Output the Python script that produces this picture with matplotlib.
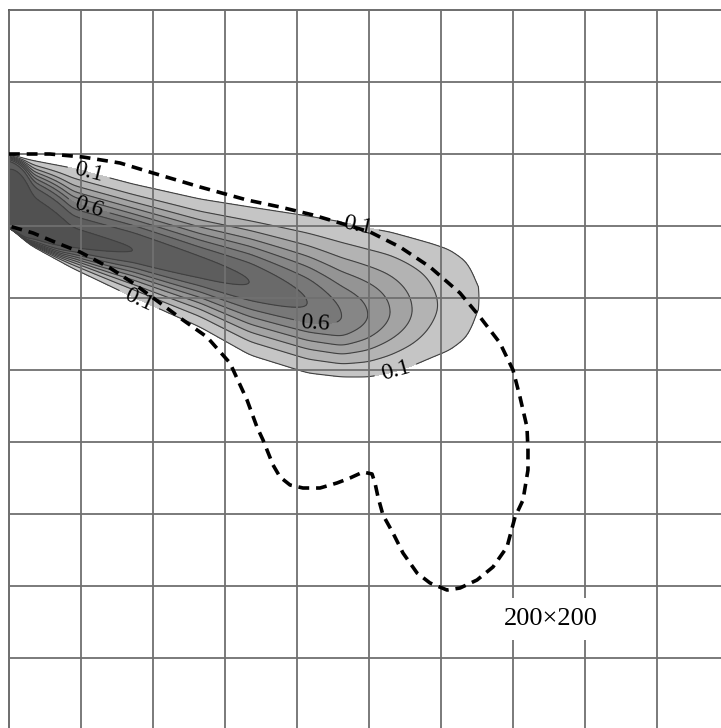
import numpy as np
import matplotlib
matplotlib.use("Agg")
import matplotlib.pyplot as plt

# ---------------- data (grid-cell units, 1 cell = 200 m; y measured upward) ----------------
grid_ticks = list(range(0, 11))

# plume stations along x: core position, 0.1-contour top/bottom, peak value, profile sharpness
st_x    = [0.0, 0.292, 0.875, 1.722, 2.653, 3.347, 4.153, 4.625, 4.986, 5.292, 5.597, 5.889,
           6.125, 6.361, 6.444, 6.514, 6.542, 6.681]
st_top  = [8.0, 7.917, 7.806, 7.583, 7.375, 7.264, 7.139, 7.056, 6.972, 6.917, 6.833, 6.75,
           6.667, 6.5, 6.347, 6.181, 6.014, 6.014]
st_bot  = [6.986, 6.736, 6.417, 6.014, 5.597, 5.208, 4.958, 4.903, 4.903, 4.958, 5.056, 5.181,
           5.278, 5.458, 5.625, 5.806, 6.014, 6.014]
st_core = [7.028, 6.944, 6.778, 6.667, 6.417, 6.222, 5.931, 5.736, 5.764, 5.806, 5.833, 5.889,
           5.931, 5.972, 5.986, 6.0, 6.014, 6.014]
st_peak = [0.9, 0.93, 0.93, 0.9, 0.85, 0.8, 0.7, 0.6, 0.5, 0.4, 0.3, 0.21,
           0.17, 0.13, 0.12, 0.105, 0.1, 0.05]
st_p    = [30, 6, 2.6, 2.2, 2, 2, 2, 2, 2, 2, 2, 2, 2, 2, 2, 2, 2, 2]

levels = [0.1, 0.2, 0.3, 0.4, 0.5, 0.6, 0.7, 0.8, 0.9, 1.0]
line_levels = [0.2, 0.3, 0.4, 0.5, 0.7, 0.8, 0.9]
band_colors = ['#c5c5c5', '#b3b3b3', '#a3a3a3', '#949494', '#868686',
               '#787878', '#6a6a6a', '#5d5d5d', '#515151']

# contour label anchor points
lab01_pts = [(1.069, 7.597), (4.833, 6.958), (1.833, 6.028), (5.389, 4.931)]
lab06_pts = [(1.097, 7.222), (4.25, 5.583)]

# dashed outline
dash_x = [0.0, 0.569, 1.028, 1.542, 2.0, 2.653, 3.306, 3.764, 4.222, 4.597, 5.014, 5.431, 5.847,
          6.264, 6.542, 6.819, 7.0, 7.097, 7.194, 7.208, 7.208, 7.139, 7.028, 6.917, 6.722, 6.5,
          6.264, 6.083, 5.847, 5.667, 5.472, 5.333, 5.194, 5.125, 5.083, 5.042, 4.917, 4.736,
          4.556, 4.319, 4.083, 3.903, 3.764, 3.667, 3.528, 3.444, 3.306, 3.069, 2.75, 2.417,
          2.097, 1.722, 1.403, 0.986, 0.667, 0.333, 0.0]
dash_y = [8.0, 8.0, 7.958, 7.875, 7.736, 7.542, 7.361, 7.264, 7.153, 7.042, 6.917, 6.708, 6.431,
          6.069, 5.736, 5.375, 5.0, 4.625, 4.208, 3.889, 3.611, 3.194, 2.958, 2.542, 2.264, 2.083,
          1.972, 1.944, 2.042, 2.181, 2.458, 2.736, 2.986, 3.236, 3.431, 3.556, 3.583, 3.5,
          3.431, 3.361, 3.361, 3.403, 3.514, 3.681, 4.028, 4.208, 4.583, 5.097, 5.458, 5.694,
          5.931, 6.208, 6.417, 6.639, 6.764, 6.903, 7.0]

note_text = "200\u00d7200"
note_pos = (7.53, 1.54)

# ---------------- field built from the station arrays ----------------
gx = np.linspace(0, 8, 1600)
gy = np.linspace(3, 9, 1200)
dx = gx[1] - gx[0]
sig = 0.06
kern = np.exp(-0.5 * (np.arange(-int(4 * sig / dx), int(4 * sig / dx) + 1) * dx / sig) ** 2)
kern /= kern.sum()
npad = len(kern) // 2


def profile(vals):
    v = np.interp(gx, st_x, vals)
    v = np.convolve(np.pad(v, npad, mode='edge'), kern, mode='valid')
    return v[None, :]


X, Y = np.meshgrid(gx, gy)
top = profile(st_top)
bot = profile(st_bot)
core = profile(st_core)
peak = profile(st_peak)
pp = profile(st_p)
h = np.where(Y >= core, top - core, core - bot)
h = np.maximum(h, 1e-3)
r = np.abs(Y - core) / h
k = np.maximum(np.log(np.maximum(peak, 1e-3) / 0.1), 0.02)
with np.errstate(over='ignore'):
    Z = peak * np.exp(-k * np.power(r, pp))

# ---------------- figure ----------------
fig = plt.figure(figsize=(7.21, 7.28), dpi=100)
ax = fig.add_axes([9 / 721, -2 / 728, 720 / 721, 720 / 728])
ax.set_xlim(0, 10)
ax.set_ylim(0, 10)

ax.contourf(X, Y, Z, levels=levels, colors=band_colors, zorder=1)
ax.contour(X, Y, Z, levels=line_levels, colors='#404040', linewidths=0.8, zorder=2)
cs01 = ax.contour(X, Y, Z, levels=[0.1], colors='#404040', linewidths=0.8, zorder=2)
cs06 = ax.contour(X, Y, Z, levels=[0.6], colors='#404040', linewidths=0.8, zorder=2)

t1 = ax.clabel(cs01, manual=lab01_pts, fmt='%.1f', inline=True,
               inline_spacing=3, colors='black', fontsize=17)
t2 = ax.clabel(cs06, manual=lab06_pts, fmt='%.1f', inline=True,
               inline_spacing=3, colors='black', fontsize=17)
for t in list(t1) + list(t2):
    t.set_fontfamily('Liberation Serif')
    t.set_fontsize(17)
    t.set_zorder(6)

ax.plot(dash_x, dash_y, color='black', lw=2.6, linestyle=(0, (3.0, 1.9)),
        dash_capstyle='butt', zorder=4, solid_joinstyle='round')

ax.set_xticks(grid_ticks)
ax.set_yticks(grid_ticks)
ax.tick_params(length=0, labelbottom=False, labelleft=False)
ax.grid(True, color='#707070', lw=1.3)
ax.set_axisbelow(False)
for s in ['right', 'bottom']:
    ax.spines[s].set_visible(False)
for s in ['left', 'top']:
    ax.spines[s].set_color('#555555')
    ax.spines[s].set_linewidth(1.2)

ax.text(note_pos[0], note_pos[1], note_text, ha='center', va='center',
        fontsize=19, family='Liberation Serif', color='black', zorder=7,
        bbox=dict(boxstyle='square,pad=0.38', facecolor='white', edgecolor='none'))

fig.savefig('out.png', dpi=100)
